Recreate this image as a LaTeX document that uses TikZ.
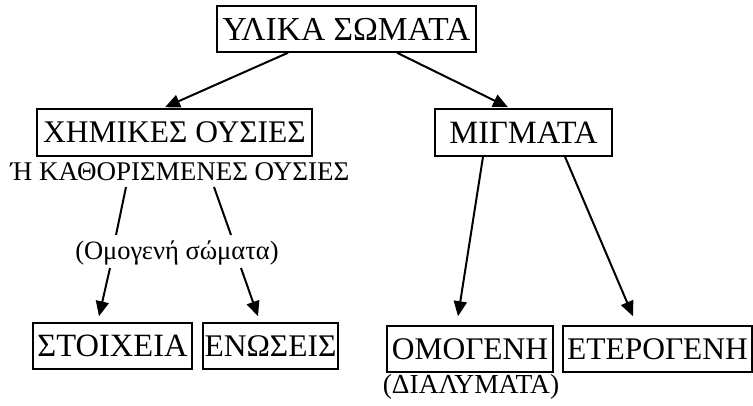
\documentclass[tikz,border=0pt]{standalone}
\usepackage{fontspec}
\setmainfont{Liberation Serif}
\usetikzlibrary{arrows.meta}
\tikzset{
  box/.style={draw, line width=1.5pt, inner sep=0pt, minimum height=46pt, font=\fontsize{32.5}{38}\selectfont},
  lbl/.style={inner sep=0pt, font=\fontsize{27}{32}\selectfont},
  conn/.style={line width=2pt},
  arr/.style={conn, -{Triangle[length=15pt,width=13pt]}}
}
\begin{document}
\begin{tikzpicture}[x=1pt,y=1pt]
\useasboundingbox (0,0) rectangle (753,-405);
\node[box, minimum width=259pt, font=\fontsize{33.5}{38}\selectfont] (top) at (346.5,-29) {ΥΛΙΚΑ ΣΩΜΑΤΑ};
\node[box, minimum width=275pt, minimum height=47pt, font=\fontsize{31.5}{38}\selectfont] (chem) at (174.5,-132.5) {ΧΗΜΙΚΕΣ ΟΥΣΙΕΣ};
\node[box, minimum width=177pt, minimum height=47pt] (mig) at (523.5,-132.5) {ΜΙΓΜΑΤΑ};
\node[lbl] (kath) at (180,-172) {Ή ΚΑΘΟΡΙΣΜΕΝΕΣ ΟΥΣΙΕΣ};
\node[lbl, font=\fontsize{26.5}{31}\selectfont] (omsom) at (177,-253) {(Ομογενή σώματα)};
\node[box, minimum width=159pt] (stoix) at (112.5,-346) {ΣΤΟΙΧΕΙΑ};
\node[box, minimum width=135pt, font=\fontsize{31.5}{38}\selectfont] (enos) at (270.5,-346) {ΕΝΩΣΕΙΣ};
\node[box, minimum width=166pt, font=\fontsize{31.5}{38}\selectfont] (omog) at (470,-349) {ΟΜΟΓΕΝΗ};
\node[box, minimum width=189pt, font=\fontsize{31.5}{38}\selectfont] (eter) at (657.5,-349) {ΕΤΕΡΟΓΕΝΗ};
\node[lbl, font=\fontsize{27.5}{32}\selectfont] (dial) at (471,-387) {(ΔΙΑΛΥΜΑΤΑ)};

\draw[arr] ([xshift=-58.5pt]top.south) -- ([xshift=-9.5pt,yshift=1pt]chem.north);
\draw[arr] ([xshift=50.5pt]top.south) -- ([xshift=-15.5pt,yshift=1pt]mig.north);
\draw[conn] ([xshift=-54pt,yshift=-15pt]kath.center) -- ([xshift=-61pt,yshift=18pt]omsom.center);
\draw[conn] ([xshift=34pt,yshift=-15pt]kath.center) -- ([xshift=54pt,yshift=18pt]omsom.center);
\draw[arr] ([xshift=-67pt,yshift=-15pt]omsom.center) -- ([xshift=-13.5pt,yshift=6pt]stoix.north);
\draw[arr] ([xshift=64pt,yshift=-15pt]omsom.center) -- ([xshift=-12.5pt,yshift=6pt]enos.north);
\draw[arr] ([xshift=-40.5pt]mig.south) -- ([xshift=-12pt,yshift=9pt]omog.north);
\draw[arr] ([xshift=41.5pt]mig.south) -- ([xshift=-24.5pt,yshift=9pt]eter.north);
\end{tikzpicture}
\end{document}
